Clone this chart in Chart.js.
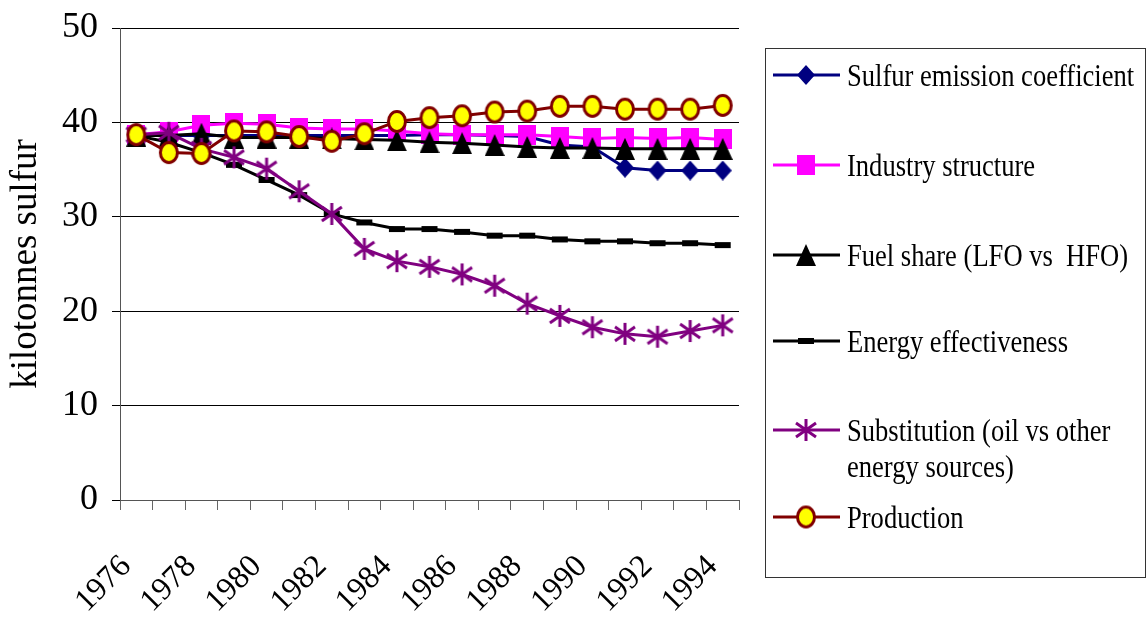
<!DOCTYPE html>
<html>
<head>
<meta charset="utf-8">
<script src="https://cdn.jsdelivr.net/npm/chart.js@4/dist/chart.umd.min.js"></script>
<style>
  html, body { margin: 0; padding: 0; background: #fff; }
  #wrap { width: 1146px; height: 622px; }
</style>
</head>
<body>
<div id="wrap"><canvas id="c" width="1146" height="622"></canvas></div>
<script>
// Years on the category axis
const years = ['1976','1977','1978','1979','1980','1981','1982','1983','1984','1985',
               '1986','1987','1988','1989','1990','1991','1992','1993','1994'];

// Sulfur emissions (kilotonnes) under each decomposition factor
const sulfurCoefficient = [38.6,38.6,38.6,38.6,38.6,38.6,38.6,38.6,38.6,38.7,38.7,38.6,38.5,37.6,37.4,35.2,34.9,34.9,34.9];
const industryStructure = [38.7,39.0,39.7,39.9,39.8,39.4,39.3,39.3,39.1,38.8,38.7,38.7,38.7,38.5,38.3,38.4,38.3,38.4,38.2];
const fuelShare         = [38.6,38.6,38.8,38.4,38.4,38.4,38.3,38.2,38.1,37.9,37.8,37.6,37.4,37.3,37.3,37.2,37.2,37.2,37.2];
const energyEffect      = [38.6,37.9,36.8,35.5,33.9,32.3,30.3,29.4,28.7,28.7,28.4,28.0,28.0,27.6,27.4,27.4,27.2,27.2,27.0];
const substitution      = [38.7,38.9,37.2,36.3,35.1,32.7,30.3,26.6,25.3,24.7,23.9,22.7,20.8,19.5,18.3,17.6,17.3,17.9,18.5];
const production        = [38.7,36.8,36.7,39.1,39.0,38.5,38.0,38.8,40.1,40.5,40.7,41.1,41.2,41.7,41.7,41.4,41.4,41.4,41.8];

// Legend captions (the substitution caption wraps onto two lines)
const seriesNames = [
  ['Sulfur emission coefficient'],
  ['Industry structure'],
  ['Fuel share (LFO vs  HFO)'],
  ['Energy effectiveness'],
  ['Substitution (oil vs other', 'energy sources)'],
  ['Production']
];

const yTicks = { min: 0, max: 50, step: 10 };
const SERIF = "'Liberation Serif', 'Times New Roman', serif";

// Small canvases used as point markers
function markerCanvas(w, h, paint) {
  const c = document.createElement('canvas');
  c.width = w; c.height = h;
  paint(c.getContext('2d'), w, h);
  return c;
}
const diamondImg = markerCanvas(18, 20, (g, w, h) => {
  g.fillStyle = '#000080';
  g.beginPath();
  g.moveTo(w / 2, 0); g.lineTo(w, h / 2); g.lineTo(w / 2, h); g.lineTo(0, h / 2);
  g.closePath(); g.fill();
});
const squareImg = markerCanvas(18, 20, (g, w, h) => {
  g.fillStyle = '#FF00FF';
  g.fillRect(0, 0, w, h);
});
const triangleImg = markerCanvas(20, 22, (g, w, h) => {
  g.fillStyle = '#000000';
  g.beginPath();
  g.moveTo(w / 2, 0); g.lineTo(w, h); g.lineTo(0, h);
  g.closePath(); g.fill();
});
const starImg = markerCanvas(24, 24, (g) => {
  g.strokeStyle = '#800080'; g.lineWidth = 3;
  g.beginPath();
  g.moveTo(12, 1); g.lineTo(12, 23);
  g.moveTo(2, 5); g.lineTo(22, 19);
  g.moveTo(2, 19); g.lineTo(22, 5);
  g.stroke();
});
const ovalImg = markerCanvas(22, 25, (g) => {
  g.fillStyle = '#FFFF00'; g.strokeStyle = '#800000'; g.lineWidth = 3;
  g.beginPath();
  g.ellipse(11, 12.5, 8.5, 10, 0, 0, Math.PI * 2);
  g.fill(); g.stroke();
});

function series(label, data, color, extra, order) {
  return Object.assign({
    label, data, order,
    borderColor: color,
    backgroundColor: color,
    pointBorderColor: color,
    pointBackgroundColor: color,
    borderWidth: 3,
    pointBorderWidth: 0,
    pointRadius: 11,
    tension: 0,
    fill: false
  }, extra);
}

const datasets = [
  series(seriesNames[0].join(' '), sulfurCoefficient, '#000080', { pointStyle: diamondImg }, 6),
  series(seriesNames[1].join(' '), industryStructure, '#FF00FF', { pointStyle: squareImg }, 5),
  series(seriesNames[2].join(' '), fuelShare, '#000000', { pointStyle: triangleImg }, 4),
  series(seriesNames[3].join(' '), energyEffect, '#000000', { pointStyle: 'line', pointRadius: 8, pointBorderWidth: 6 }, 3),
  series(seriesNames[4].join(' '), substitution, '#800080', { pointStyle: starImg }, 2),
  series(seriesNames[5].join(' '), production, '#800000', { pointStyle: ovalImg }, 1)
];

// Boxed legend on the right, one row per series
const boxLegend = {
  id: 'boxLegend',
  afterDraw(chart) {
    const ctx = chart.ctx;
    const box = { x: 765.5, y: 48.5, w: 380, h: 529 };
    const rows = [75, 165, 255, 341, 430, 517];
    ctx.save();
    ctx.strokeStyle = '#333';
    ctx.lineWidth = 1;
    ctx.strokeRect(box.x, box.y, box.w, box.h);
    chart.data.datasets.forEach((ds, i) => {
      const y = rows[i];
      ctx.strokeStyle = ds.borderColor;
      ctx.lineWidth = 3;
      ctx.beginPath();
      ctx.moveTo(773, y); ctx.lineTo(840, y);
      ctx.stroke();
      const opts = chart.getDatasetMeta(i).data[0].options;
      ctx.fillStyle = opts.backgroundColor;
      ctx.strokeStyle = opts.borderColor;
      ctx.lineWidth = opts.borderWidth;
      Chart.helpers.drawPoint(ctx, {
        pointStyle: opts.pointStyle,
        rotation: opts.rotation,
        radius: opts.radius,
        borderWidth: opts.borderWidth
      }, 806, y);
      // Captions are set in a tightly fitted serif
      ctx.fillStyle = '#000';
      ctx.font = '32px ' + SERIF;
      ctx.textBaseline = 'alphabetic';
      ctx.textAlign = 'left';
      seriesNames[i].forEach((line, k) => {
        ctx.save();
        ctx.translate(847, y + 11 + k * 36);
        ctx.scale(0.83, 1);
        ctx.fillText(line, 0, 0);
        ctx.restore();
      });
    });
    ctx.restore();
  }
};

new Chart(document.getElementById('c'), {
  type: 'line',
  data: { labels: years, datasets },
  plugins: [boxLegend],
  options: {
    responsive: false,
    animation: false,
    events: [],
    layout: { padding: { top: 28, right: 407, left: 0, bottom: 0 } },
    plugins: { legend: { display: false }, tooltip: { enabled: false } },
    scales: {
      x: {
        type: 'category',
        offset: true,
        grid: { offset: true, drawOnChartArea: false, drawTicks: true, tickLength: 10, color: '#666', lineWidth: 1 },
        border: { display: true, color: '#555', width: 1 },
        ticks: {
          autoSkip: false,
          maxRotation: 45, minRotation: 45,
          padding: 38,
          labelOffset: -10,
          color: '#000',
          font: { family: SERIF, size: 32 },
          callback: function (v, i) { return i % 2 === 0 ? this.getLabelForValue(v) : ''; }
        },
        afterFit(scale) { scale.height = 122; }
      },
      y: {
        min: yTicks.min, max: yTicks.max,
        grid: { color: '#000', lineWidth: 1, tickLength: 8, drawTicks: true },
        border: { display: true, color: '#555', width: 1 },
        ticks: {
          stepSize: yTicks.step,
          padding: 14,
          color: '#000',
          font: { family: SERIF, size: 36, lineHeight: 0.7 }
        },
        title: {
          display: true,
          text: 'kilotonnes sulfur',
          color: '#000',
          font: { family: SERIF, size: 37 },
          padding: { top: 4, bottom: 0 }
        },
        afterFit(scale) { scale.width = 120; }
      }
    }
  }
});
</script>
</body>
</html>
